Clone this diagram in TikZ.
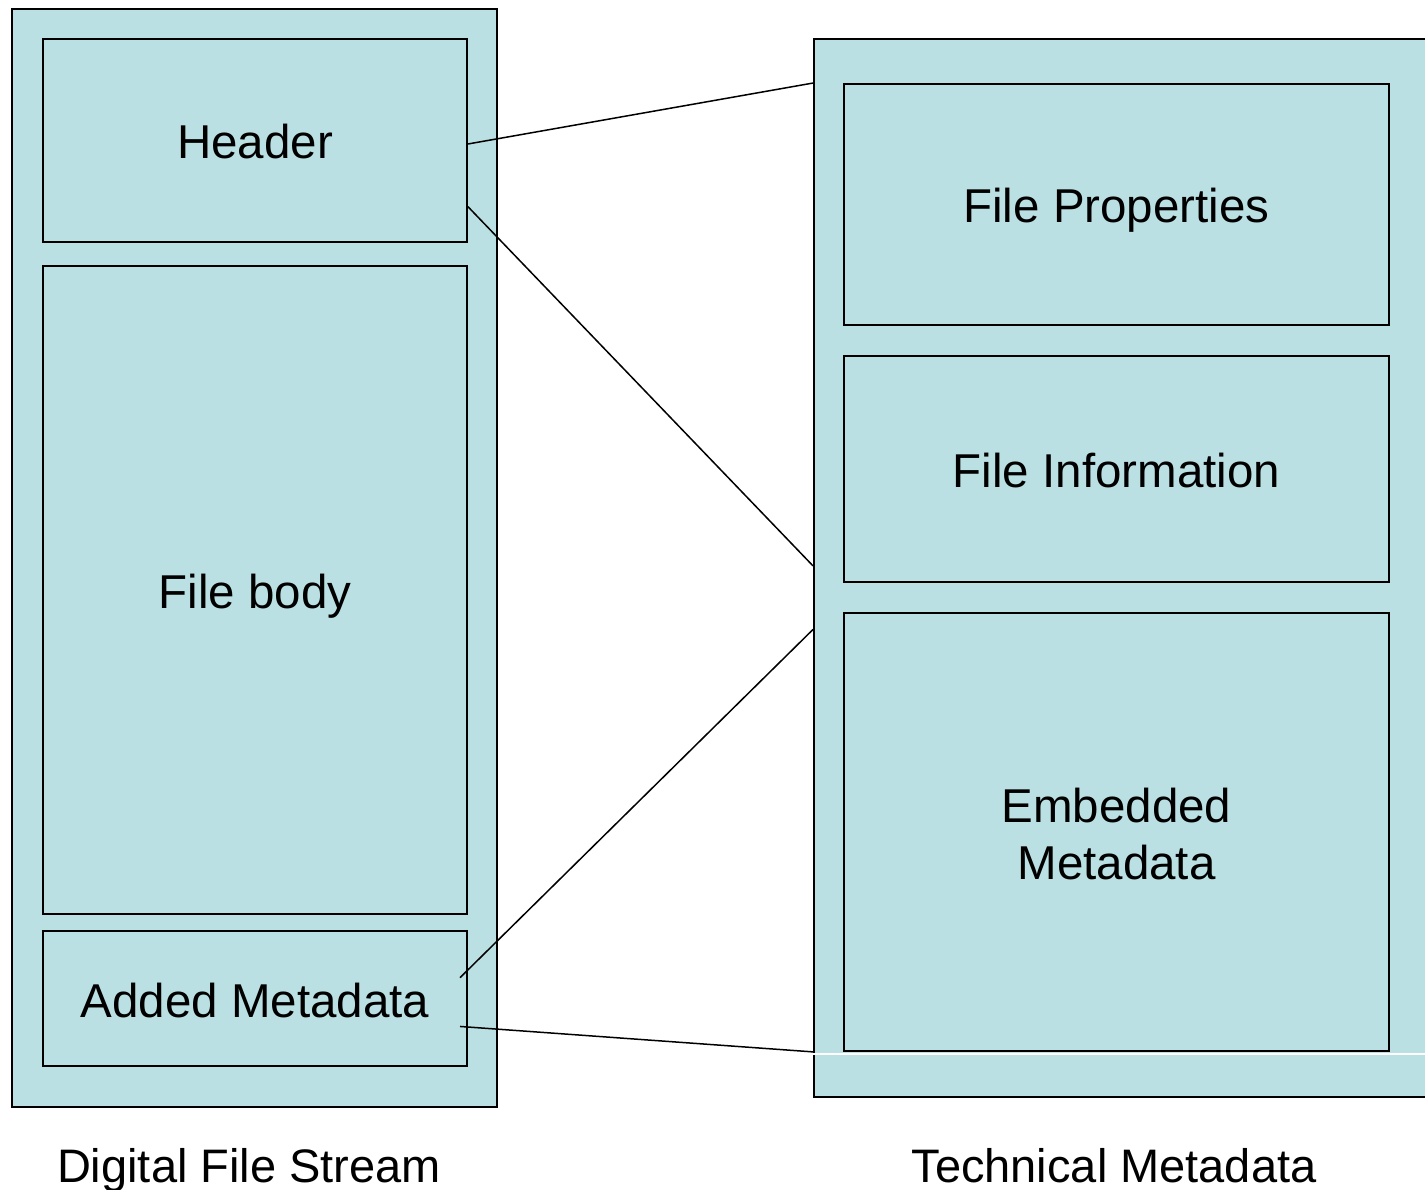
\documentclass[tikz,border=0pt]{standalone}
\usepackage{fontspec}
\setmainfont{Liberation Sans}
\usetikzlibrary{calc}
\definecolor{panel}{RGB}{186,224,227}
\tikzset{
  frame/.style={draw=black, line width=2pt, fill=panel, inner sep=0pt, anchor=north west},
  part/.style={frame, align=center, font=\fontsize{47.5pt}{57pt}\selectfont,
    text height=44pt, text depth=7pt},
  twolines/.style={text height=101pt},
  caption/.style={font=\fontsize{47pt}{56pt}\selectfont, inner sep=0pt, anchor=base},
  link/.style={draw=black, line width=1.5pt}
}
\begin{document}
\begin{tikzpicture}[x=1pt, y=-1pt]
\useasboundingbox (0,0) rectangle (1425,1190);

% left column: the digital file stream and its parts
\node[frame, minimum width=485pt, minimum height=1098pt] (dfs) at (11,8) {};
\node[part, minimum width=424pt, minimum height=203pt] (hdr) at (42,38) {Header};
\node[part, minimum width=424pt, minimum height=648pt] (body) at (42,265) {File body};
\node[part, minimum width=424pt, minimum height=135pt] (added) at (42,930) {Added Metadata};

% right column: technical metadata and its parts
\node[frame, minimum width=630pt, minimum height=1058pt] (tm) at (813,38) {};
\node[part, minimum width=545pt, minimum height=241pt] (props) at (843,83) {File Properties};
\node[part, minimum width=545pt, minimum height=226pt] (info) at (843,355) {File Information};
\node[part, twolines, minimum width=545pt, minimum height=438pt] (emb) at (843,612) {Embedded\\Metadata};
\draw[white, line width=1.5pt] (emb.south west -| tm.west) ++(0,2) coordinate (wl) -- (wl -| tm.east);

% captions
\node[caption] (dfscap) at (249,1182) {Digital File Stream};
\node[caption] (tmcap) at (1114,1182) {Technical Metadata};

% connectors from the file stream to the metadata block
\coordinate (h1) at ($(hdr.north east)!0.517!(hdr.south east)$);
\coordinate (h2) at ($(hdr.north east)!0.823!(hdr.south east)$);
\coordinate (a1) at ($(added.north east)!0.348!(added.south east)+(-8,0)$);
\coordinate (a2) at ($(added.north east)!0.704!(added.south east)+(-8,0)$);
\coordinate (t1) at ($(tm.north west)!0.0425!(tm.south west)$);
\coordinate (t2) at ($(tm.north west)!0.498!(tm.south west)$);
\coordinate (t3) at ($(tm.north west)!0.558!(tm.south west)$);
\coordinate (t4) at ($(tm.north west)!0.9565!(tm.south west)$);
\draw[link] (h1) -- (t1);
\draw[link] (h2) -- (t2);
\draw[link] (a1) -- (t3);
\draw[link] (a2) -- (t4);
\end{tikzpicture}
\end{document}
